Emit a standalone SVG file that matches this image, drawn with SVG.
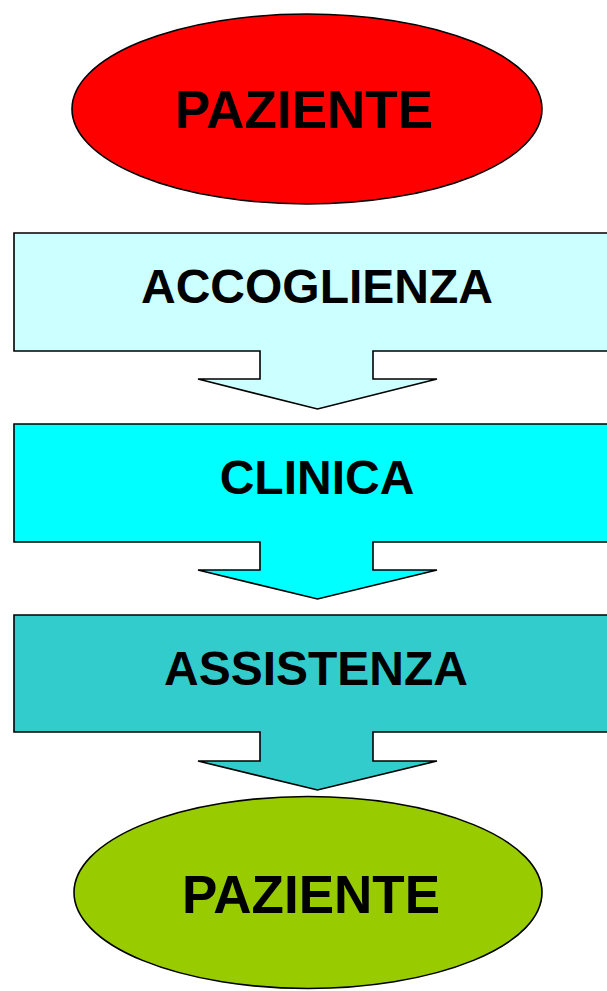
<svg xmlns="http://www.w3.org/2000/svg" width="607" height="991" viewBox="0 0 607 991">
<style>
.shape{stroke:#000;stroke-width:1.6;stroke-linejoin:miter}
.lbl{font-family:"Liberation Sans",Arial,sans-serif;font-weight:bold;fill:#000;text-anchor:middle}
.big{font-size:53px}
.mid{font-size:48px}
</style>
<rect width="607" height="991" fill="#fff"/>
<g id="paziente-top">
<ellipse class="shape" cx="307" cy="109" rx="235" ry="95" fill="#FF0000"/>
<text class="lbl big" x="304" y="128">PAZIENTE</text>
</g>
<g id="connectors">
</g>
<g id="accoglienza">
<path class="shape" fill="#CCFFFF" d="M14,233 H620 V351 H373 V379 H437 L317.5,409 L198,379 H260 V351 H14 Z"/>
<text class="lbl mid" x="317" y="303">ACCOGLIENZA</text>
</g>
<g id="clinica">
<path class="shape" fill="#00FFFF" d="M14,424 H620 V542 H373 V570 H437 L317.5,599 L198,570 H260 V542 H14 Z"/>
<text class="lbl mid" x="317" y="494">CLINICA</text>
</g>
<g id="assistenza">
<path class="shape" fill="#33CCCC" d="M14,615 H620 V732 H373 V761 H437 L317.5,790 L198,761 H260 V732 H14 Z"/>
<text class="lbl mid" x="316" y="685">ASSISTENZA</text>
</g>
<g id="paziente-bottom">
<ellipse class="shape" cx="308" cy="892.5" rx="234" ry="96" fill="#99CC00"/>
<text class="lbl big" x="311" y="913">PAZIENTE</text>
</g>
</svg>
